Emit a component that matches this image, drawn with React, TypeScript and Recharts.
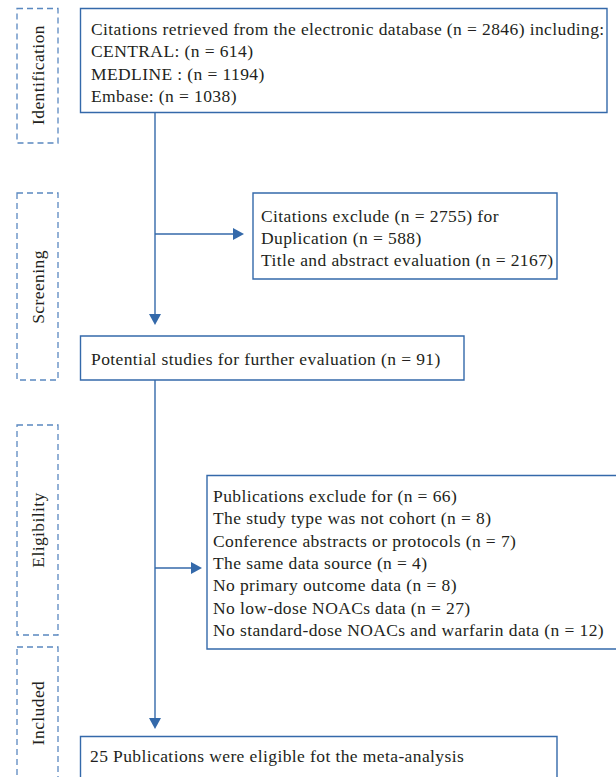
import { ComposedChart, XAxis, YAxis, Scatter, ReferenceArea, ReferenceLine } from 'recharts'

// Texts of the flow diagram
const stageLabels = ['Identification', 'Screening', 'Eligibility', 'Included']

const retrievedLines = [
  'Citations retrieved from the electronic database (n = 2846) including:',
  'CENTRAL: (n = 614)',
  'MEDLINE : (n = 1194)',
  'Embase: (n = 1038)',
]

const screenExcludedLines = [
  'Citations exclude (n = 2755) for',
  'Duplication (n = 588)',
  'Title and abstract evaluation (n = 2167)',
]

const potentialLines = ['Potential studies for further evaluation (n = 91)']

const eligibilityExcludedLines = [
  'Publications exclude for (n = 66)',
  'The study type was not cohort (n = 8)',
  'Conference abstracts or protocols (n = 7)',
  'The same data source (n = 4)',
  'No primary outcome data (n = 8)',
  'No low-dose NOACs data (n = 27)',
  'No standard-dose NOACs and warfarin data (n = 12)',
]

const includedLines = ['25 Publications were eligible fot the meta-analysis']

const W = 616
const H = 777
const LINE_GAP = 22.3
const BLUE = '#3469aa'
const DASH_BLUE = '#5a88c0'
const TEXT = '#231f20'
const FONT = '"Liberation Serif", "Times New Roman", serif'
const FONT_SIZE = 17.5
const SPACING = 0.4

// layout of the diagram, in page pixels
const flowBoxes = [
  { lines: retrievedLines, x1: 80.5, x2: 607, y1: 8.5, y2: 112.5, tx: 91, ty: 35 },
  { lines: screenExcludedLines, x1: 253, x2: 557, y1: 193, y2: 279, tx: 261, ty: 221.5 },
  { lines: potentialLines, x1: 80.5, x2: 464, y1: 336, y2: 380, tx: 91, ty: 365 },
  { lines: eligibilityExcludedLines, x1: 207, x2: 625, y1: 475.5, y2: 649, tx: 213, ty: 502 },
  { lines: includedLines, x1: 80.5, x2: 557, y1: 736.5, y2: 800, tx: 90, ty: 762 },
]

const stageBoxes = [
  { y1: 8.5, y2: 143, cy: 75 },
  { y1: 193, y2: 380, cy: 287 },
  { y1: 425, y2: 635, cy: 530 },
  { y1: 647, y2: 800, cy: 713 },
]

const connectors = [
  { x1: 155, y1: 112.5, x2: 155, y2: 315 },
  { x1: 155, y1: 234, x2: 234, y2: 234 },
  { x1: 155, y1: 380, x2: 155, y2: 719 },
  { x1: 155, y1: 568, x2: 192, y2: 568 },
]

const arrowHeads = [
  { x: 155, y: 325, dir: 'down' },
  { x: 244, y: 234, dir: 'right' },
  { x: 155, y: 729, dir: 'down' },
  { x: 202, y: 568, dir: 'right' },
]

const textPoints = flowBoxes.flatMap((b) =>
  b.lines.map((t, i) => ({ x: b.tx, y: b.ty + i * LINE_GAP, text: t }))
)

const stagePoints = stageBoxes.map((s, i) => ({ x: 37.5, y: s.cy, text: stageLabels[i] }))

const LineText = (props: any) => (
  <text
    x={props.cx}
    y={props.cy}
    fill={TEXT}
    fontFamily={FONT}
    fontSize={FONT_SIZE}
    letterSpacing={SPACING}
  >
    {props.payload.text}
  </text>
)

const StageText = (props: any) => (
  <text
    x={props.cx}
    y={props.cy}
    fill={TEXT}
    fontFamily={FONT}
    fontSize={FONT_SIZE}
    letterSpacing={SPACING}
    textAnchor="middle"
    dominantBaseline="central"
    transform={`rotate(-90 ${props.cx} ${props.cy})`}
  >
    {props.payload.text}
  </text>
)

const Arrow = (props: any) => {
  const { cx, cy, payload } = props
  const len = 11
  const half = 6
  const pts =
    payload.dir === 'down'
      ? `${cx},${cy} ${cx - half},${cy - len} ${cx + half},${cy - len}`
      : `${cx},${cy} ${cx - len},${cy - half} ${cx - len},${cy + half}`
  return <polygon points={pts} fill={BLUE} />
}

export default function App() {
  return (
    <div style={{ position: 'absolute', left: 0, top: 0, background: '#fff' }}>
      <ComposedChart width={W} height={H} margin={{ top: 0, right: 0, bottom: 0, left: 0 }}>
        <XAxis type="number" dataKey="x" domain={[0, W]} hide allowDataOverflow />
        <YAxis type="number" dataKey="y" domain={[0, H]} reversed hide allowDataOverflow />

        {connectors.map((c, i) => (
          <ReferenceLine
            key={`c-${i}`}
            segment={[{ x: c.x1, y: c.y1 }, { x: c.x2, y: c.y2 }]}
            stroke={BLUE}
            strokeWidth={1.4}
            ifOverflow="visible"
          />
        ))}

        {stageBoxes.map((s, i) => (
          <ReferenceArea
            key={`s-${i}`}
            x1={17}
            x2={58}
            y1={s.y1}
            y2={s.y2}
            fill="none"
            stroke={DASH_BLUE}
            strokeWidth={1.3}
            strokeDasharray="6 4"
            ifOverflow="visible"
          />
        ))}

        {flowBoxes.map((b, i) => (
          <ReferenceArea
            key={`b-${i}`}
            x1={b.x1}
            x2={b.x2}
            y1={b.y1}
            y2={b.y2}
            fill="#fff"
            fillOpacity={1}
            stroke={BLUE}
            strokeWidth={1.4}
            ifOverflow="visible"
          />
        ))}

        <Scatter data={arrowHeads} shape={Arrow} isAnimationActive={false} />
        <Scatter data={textPoints} shape={LineText} isAnimationActive={false} />
        <Scatter data={stagePoints} shape={StageText} isAnimationActive={false} />
      </ComposedChart>
    </div>
  )
}
